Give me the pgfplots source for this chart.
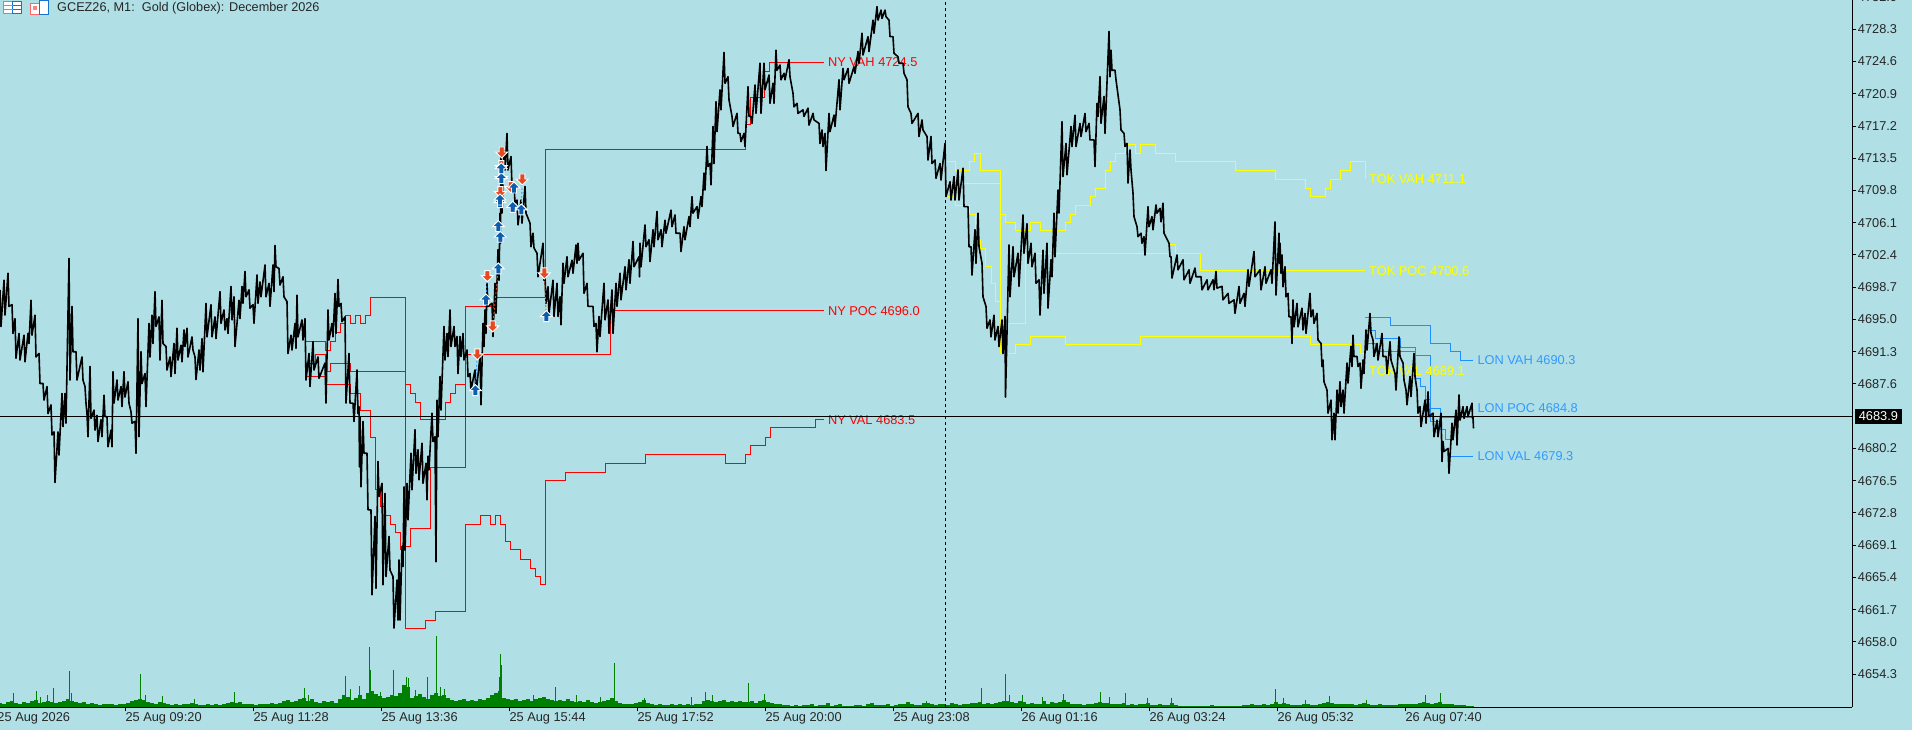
\documentclass[border=0pt]{standalone}
\usepackage{fontspec}
\setmainfont{Liberation Sans}
\usepackage{pgfplots}
\pgfplotsset{compat=1.18}
\definecolor{bg}{HTML}{B0E0E6}
\definecolor{vol}{HTML}{008000}
\definecolor{lon}{HTML}{1E90FF}
\definecolor{lontxt}{HTML}{3399FF}
\definecolor{tok}{HTML}{FFFF00}
\definecolor{ny}{HTML}{FF0000}
\definecolor{buy}{HTML}{0B5EAD}
\definecolor{sell}{HTML}{E84820}
\pgfdeclareplotmark{uparr}{%
 \pgfpathmoveto{\pgfqpoint{0pt}{6pt}}%
 \pgfpathlineto{\pgfqpoint{6pt}{0pt}}%
 \pgfpathlineto{\pgfqpoint{2.5pt}{0pt}}%
 \pgfpathlineto{\pgfqpoint{2.5pt}{-5pt}}%
 \pgfpathlineto{\pgfqpoint{-2.5pt}{-5pt}}%
 \pgfpathlineto{\pgfqpoint{-2.5pt}{0pt}}%
 \pgfpathlineto{\pgfqpoint{-6pt}{0pt}}%
 \pgfpathclose\pgfusepathqfillstroke}
\pgfdeclareplotmark{dnarr}{%
 \pgfpathmoveto{\pgfqpoint{0pt}{-6pt}}%
 \pgfpathlineto{\pgfqpoint{6pt}{0pt}}%
 \pgfpathlineto{\pgfqpoint{2.5pt}{0pt}}%
 \pgfpathlineto{\pgfqpoint{2.5pt}{5pt}}%
 \pgfpathlineto{\pgfqpoint{-2.5pt}{5pt}}%
 \pgfpathlineto{\pgfqpoint{-2.5pt}{0pt}}%
 \pgfpathlineto{\pgfqpoint{-6pt}{0pt}}%
 \pgfpathclose\pgfusepathqfillstroke}
\newcommand{\lbl}{\fontsize{12.8}{14}\selectfont}
\begin{document}
\begin{tikzpicture}[x=1pt,y=1pt]
\path[use as bounding box] (0,0) rectangle (1912,730);
\clip (0,0) rectangle (1912,730);
\fill[bg] (0,0) rectangle (1912,730);
% header icons
\draw[red!60,fill=white,line width=1pt] (3.5,716) rectangle (12.5,728);
\draw[lon!80!black,fill=white,line width=1pt] (12.5,716) rectangle (21.5,728);
\draw[red!60,line width=1pt] (3.5,724)--(12.5,724) (3.5,720)--(12.5,720);
\draw[lon!80!black,line width=1pt] (12.5,724)--(21.5,724) (12.5,720)--(21.5,720);
\draw[red!60,fill=white,line width=1pt] (30.5,715.5) rectangle (39,726);
\draw[lon!80!black,fill=white,line width=1pt] (39,715.5) rectangle (48.5,729);
\fill[red!50] (32.5,720) rectangle (37,724);
\node[anchor=west,inner sep=0pt,text=black!85] at (57,721.5) {\fontsize{12.7}{14}\selectfont GCEZ26, M1:\ \ Gold (Globex): December 2026};
% volume pane
\begin{axis}[at={(-3pt,22.7pt)},anchor=south west,scale only axis,width=1855.4pt,height=707.3pt,
 xmin=-3,xmax=1852.4,ymin=0,ymax=707.3,hide axis,clip=false]
\addplot[vol,ycomb,line width=4pt,line cap=butt] coordinates {(0,4)(4,3)(8,5)(12,6)(16,4)(20,3)(24,5)(28,4)(32,6)(36,7)(40,4)(44,5)(48,6)(52,5)(56,4)(60,5)(64,6)(68,8)(72,6)(76,5)(80,4)(84,5)(88,3)(92,4)(96,3)(100,2)(104,3)(108,3)(112,3)(116,2)(120,3)(124,3)(128,4)(132,6)(136,7)(140,8)(144,7)(148,5)(152,4)(156,3)(160,5)(164,4)(168,3)(172,2)(176,3)(180,2)(184,3)(188,3)(192,4)(196,3)(200,2)(204,2)(208,3)(212,2)(216,3)(220,2)(224,3)(228,4)(232,5)(236,4)(240,5)(244,3)(248,3)(252,3)(256,2)(260,3)(264,3)(268,3)(272,4)(276,3)(280,4)(284,6)(288,7)(292,5)(296,6)(300,8)(304,9)(308,6)(312,8)(316,5)(320,4)(324,6)(328,5)(332,6)(336,4)(340,8)(344,12)(348,10)(352,7)(356,9)(360,12)(364,8)(368,14)(372,16)(376,13)(380,11)(384,9)(388,10)(392,12)(396,11)(400,14)(404,22)(408,20)(412,9)(416,11)(420,13)(424,10)(428,8)(432,12)(436,14)(440,11)(444,12)(448,9)(452,7)(456,6)(460,7)(464,8)(468,6)(472,7)(476,6)(480,8)(484,7)(488,9)(492,12)(496,14)(500,16)(504,9)(508,8)(512,7)(516,8)(520,6)(524,7)(528,8)(532,6)(536,8)(540,9)(544,10)(548,8)(552,7)(556,6)(560,7)(564,6)(568,8)(572,6)(576,5)(580,6)(584,5)(588,7)(592,5)(596,4)(600,5)(604,6)(608,7)(612,9)(616,6)(620,4)(624,3)(628,3)(632,3)(636,4)(640,5)(644,7)(648,4)(652,3)(656,2)(660,3)(664,2)(668,2)(672,3)(676,2)(680,3)(684,2)(688,3)(692,2)(696,3)(700,3)(704,6)(708,7)(712,6)(716,5)(720,6)(724,7)(728,5)(732,6)(736,5)(740,6)(744,5)(748,5)(752,6)(756,4)(760,6)(764,7)(768,5)(772,4)(776,3)(780,3)(784,2)(788,2)(792,1)(796,2)(800,1)(804,2)(808,2)(812,3)(816,1)(820,2)(824,2)(828,4)(832,1)(836,2)(840,3)(844,1)(848,1)(852,1)(856,2)(860,2)(864,1)(868,3)(872,4)(876,2)(880,2)(884,2)(888,3)(892,1)(896,2)(900,3)(904,3)(908,5)(912,3)(916,2)(920,2)(924,4)(928,4)(932,3)(936,2)(940,3)(944,3)(948,2)(952,4)(956,3)(960,2)(964,3)(968,3)(972,4)(976,4)(980,5)(984,3)(988,4)(992,3)(996,4)(1000,5)(1004,6)(1008,6)(1012,5)(1016,4)(1020,6)(1024,5)(1028,3)(1032,4)(1036,3)(1040,3)(1044,6)(1048,3)(1052,5)(1056,4)(1060,5)(1064,7)(1068,5)(1072,3)(1076,3)(1080,3)(1084,2)(1088,3)(1092,3)(1096,4)(1100,5)(1104,4)(1108,4)(1112,3)(1116,3)(1120,3)(1124,4)(1128,2)(1132,3)(1136,2)(1140,3)(1144,3)(1148,4)(1152,2)(1156,2)(1160,3)(1164,2)(1168,2)(1172,4)(1176,2)(1180,1)(1184,1)(1188,1)(1192,1)(1196,1)(1200,1)(1204,1)(1208,1)(1212,2)(1216,1)(1220,1)(1224,1)(1228,1)(1232,1)(1236,1)(1240,1)(1244,2)(1248,2)(1252,3)(1256,2)(1260,2)(1264,3)(1268,2)(1272,3)(1276,5)(1280,3)(1284,4)(1288,3)(1292,2)(1296,2)(1300,2)(1304,3)(1308,3)(1312,2)(1316,2)(1320,3)(1324,4)(1328,5)(1332,4)(1336,3)(1340,3)(1344,3)(1348,3)(1352,3)(1356,2)(1360,3)(1364,4)(1368,3)(1372,2)(1376,2)(1380,3)(1384,2)(1388,2)(1392,2)(1396,2)(1400,3)(1404,3)(1408,3)(1412,3)(1416,3)(1420,4)(1424,5)(1428,4)(1432,3)(1436,4)(1440,5)(1444,3)(1448,3)(1452,3)(1456,2)(1460,2)(1464,2)(1468,1)(1472,1)};
\addplot[vol,ycomb,line width=1pt,line cap=butt] coordinates {(14,14)(36,16)(40,10)(47,12)(53,19)(69,36)(71,14)(140,33)(145,12)(162,11)(194,8)(234,15)(304,19)(308,12)(345,31)(350,18)(359,21)(369,60)(370,37)(380,15)(393,37)(406,30)(408,29)(415,17)(427,30)(436,71)(440,20)(444,18)(499,30)(500,53)(501,42)(533,12)(555,20)(576,12)(600,10)(614,44)(644,9)(691,10)(705,15)(712,12)(748,24)(764,13)(926,6)(981,19)(1005,33)(1009,12)(1022,12)(1042,10)(1063,13)(1100,15)(1109,10)(1125,14)(1147,9)(1171,9)(1275,18)(1283,9)(1305,7)(1329,11)(1366,7)(1425,12)(1440,14)};
\end{axis}
% price pane
\begin{axis}[at={(-3pt,22.7pt)},anchor=south west,scale only axis,width=1855.4pt,height=707.3pt,
 xmin=-3,xmax=1852.4,ymin=4650.5,ymax=4731.66,clip=false,
 axis x line*=bottom,axis y line*=right,
 axis line style={black,line width=1pt,-},
 tick style={black,line width=1pt},major tick length=4pt,tick align=outside,
 xtick={-2.7,125.3,253.3,381.3,509.3,637.3,765.3,893.3,1021.3,1149.3,1277.3,1405.3},
 xticklabels={25 Aug 2026,25 Aug 09:20,25 Aug 11:28,25 Aug 13:36,25 Aug 15:44,25 Aug 17:52,25 Aug 20:00,25 Aug 23:08,26 Aug 01:16,26 Aug 03:24,26 Aug 05:32,26 Aug 07:40},
 xticklabel style={anchor=north west,font=\lbl,text=black!85,inner sep=0pt,xshift=0pt,yshift=-1.5pt},
 ytick={4728.3,4724.6,4720.9,4717.2,4713.5,4709.8,4706.1,4702.4,4698.7,4695.0,4691.3,4687.6,4680.2,4676.5,4672.8,4669.1,4665.4,4661.7,4658.0,4654.3},
 yticklabels={4728.3,4724.6,4720.9,4717.2,4713.5,4709.8,4706.1,4702.4,4698.7,4695.0,4691.3,4687.6,4680.2,4676.5,4672.8,4669.1,4665.4,4661.7,4658.0,4654.3},
 yticklabel style={anchor=west,font=\lbl,text=black!85,inner sep=0pt,xshift=1.3pt},
]
% NY profile
\addplot[ny,line width=1pt] coordinates {(305,4692.5)(325.7,4692.5)(325.7,4691.47)(330.7,4691.47)(330.7,4692.5)(335.7,4692.5)(335.7,4693.55)(340.7,4693.55)(340.7,4694.55)(345.7,4694.55)(345.7,4695.5)(350.7,4695.5)(350.7,4694.55)(355.7,4694.55)(355.7,4695.5)(360.7,4695.5)(360.7,4694.55)(365.7,4694.55)(365.7,4695.5)(370.3,4695.5)(370.3,4697.55)(405.3,4697.55)(405.3,4687.57)(410.3,4687.57)(410.3,4686.5)(415.3,4686.5)(415.3,4685.5)(420.3,4685.5)(420.3,4683.55)(445.3,4683.55)(445.3,4685.5)(450.3,4685.5)(450.3,4686.5)(455.3,4686.5)(455.3,4687.57)(465.3,4687.57)(465.3,4696.5)(494.3,4696.5)(494.3,4697.55)(545.3,4697.55)(545.3,4714.53)(745.3,4714.53)(745.3,4717.43)(750.2,4717.43)(750.2,4720.5)(764.9,4720.5)(764.9,4723.44)(769.8,4723.44)(769.8,4724.5)(823.7,4724.5)};
\addplot[ny,line width=1pt] coordinates {(305,4690)(315,4690)(315,4691)(325.7,4691)(325.7,4689)(330.7,4689)(330.7,4690)(350.7,4690)(350.7,4689)(405.3,4689)(405.3,4669)(410.3,4669)(410.3,4671.05)(430.3,4671.05)(430.3,4678.05)(465.3,4678.05)(465.3,4691)(610,4691)(610,4696)(823.7,4696)};
\addplot[ny,line width=1pt] coordinates {(305,4688.5)(325.7,4688.5)(325.7,4687.57)(350.7,4687.57)(350.7,4686.5)(360,4686.5)(360,4684.5)(370.3,4684.5)(370.3,4681.5)(375.3,4681.5)(375.3,4675.5)(380.3,4675.5)(380.3,4673.5)(385.3,4673.5)(385.3,4672.5)(390.3,4672.5)(390.3,4671.5)(395.3,4671.5)(395.3,4670.5)(400.3,4670.5)(400.3,4668.55)(405.3,4668.55)(405.3,4659.5)(425.3,4659.5)(425.3,4660.5)(435.3,4660.5)(435.3,4661.5)(465.3,4661.5)(465.3,4671.5)(480.3,4671.5)(480.3,4672.55)(490.3,4672.55)(490.3,4671.5)(495.3,4671.5)(495.3,4672.55)(500.3,4672.55)(500.3,4671.5)(505.3,4671.5)(505.3,4669.55)(510.3,4669.55)(510.3,4668.55)(520.3,4668.55)(520.3,4667.5)(530.3,4667.5)(530.3,4666.45)(535.3,4666.45)(535.3,4665.5)(540.3,4665.5)(540.3,4664.55)(545.3,4664.55)(545.3,4676.55)(565.3,4676.55)(565.3,4677.47)(605.3,4677.47)(605.3,4678.5)(645.3,4678.5)(645.3,4679.5)(725.3,4679.5)(725.3,4678.5)(745.3,4678.5)(745.3,4679.5)(750.3,4679.5)(750.3,4680.5)(765.3,4680.5)(765.3,4681.5)(770.3,4681.5)(770.3,4682.55)(815.3,4682.55)(815.3,4683.5)(823.7,4683.5)};
% TOK profile
\addplot[tok,line width=1pt] coordinates {(945.3,4713.15)(955.1,4713.15)(955.1,4712.12)(969.8,4712.12)(969.8,4713.15)(974.7,4713.15)(974.7,4714.07)(980,4714.07)(980,4712.12)(1000,4712.12)(1000,4707.07)(1005.3,4707.07)(1005.3,4706.15)(1015.5,4706.15)(1015.5,4705.16)(1030.6,4705.16)(1030.6,4706.15)(1040,4706.15)(1040,4705.16)(1065.3,4705.16)(1065.3,4706.15)(1070.6,4706.15)(1070.6,4707.07)(1075.5,4707.07)(1075.5,4708.1)(1090.6,4708.1)(1090.6,4709.1)(1095.5,4709.1)(1095.5,4710.05)(1105.7,4710.05)(1105.7,4712.12)(1110.6,4712.12)(1110.6,4713.15)(1115.5,4713.15)(1115.5,4714.07)(1125.7,4714.07)(1125.7,4715.1)(1135.5,4715.1)(1135.5,4714.07)(1140.4,4714.07)(1140.4,4715.1)(1155.5,4715.1)(1155.5,4714.07)(1175.5,4714.07)(1175.5,4713.15)(1235.5,4713.15)(1235.5,4712.12)(1275.3,4712.12)(1275.3,4711.1)(1305.5,4711.1)(1305.5,4710.05)(1310.8,4710.05)(1310.8,4709.1)(1325,4709.1)(1325,4710.05)(1330.4,4710.05)(1330.4,4711.1)(1340.6,4711.1)(1340.6,4712.12)(1350.4,4712.12)(1350.4,4713.15)(1365.5,4713.15)(1365.5,4711.1)};
\addplot[tok,line width=1pt] coordinates {(945.3,4710.63)(1000,4710.63)(1000,4694.57)(1025.7,4694.57)(1025.7,4702.6)(1169.4,4702.6)(1169.4,4703.6)(1175.5,4703.6)(1175.5,4702.6)(1200.4,4702.6)(1200.4,4700.65)(1365,4700.65)};
\addplot[tok,line width=1pt] coordinates {(945.3,4709.1)(955,4709.1)(955,4708.1)(969.8,4708.1)(969.8,4707.07)(975,4707.07)(975,4704.13)(980.8,4704.13)(980.8,4703.1)(985.7,4703.1)(985.7,4701.1)(991,4701.1)(991,4699.16)(995,4699.16)(995,4697.1)(1000,4697.1)(1000,4691.12)(1015.5,4691.12)(1015.5,4692.16)(1030.6,4692.16)(1030.6,4693.07)(1065.3,4693.07)(1065.3,4692.16)(1140,4692.16)(1140,4693.07)(1310,4693.07)(1310,4692.15)(1360.7,4692.15)(1360.7,4691.1)(1365,4691.1)(1365,4689.1)};
% LON profile
\addplot[lon,line width=1pt] coordinates {(1365.3,4695.25)(1390.3,4695.25)(1390.3,4694.33)(1430.7,4694.33)(1430.7,4692.27)(1450.7,4692.27)(1450.7,4691.3)(1460.7,4691.3)(1460.7,4690.3)(1472.7,4690.3)};
\addplot[lon,line width=1pt] coordinates {(1365.3,4693.76)(1375.3,4693.76)(1375.3,4692.84)(1400.3,4692.84)(1400.3,4691.8)(1415.3,4691.8)(1415.3,4690.81)(1430.7,4690.81)(1430.7,4684.81)(1440.7,4684.81)(1440.7,4683.78)(1472.7,4683.78)(1472.7,4684.8)};
\addplot[lon,line width=1pt] coordinates {(1365.3,4692.27)(1375.3,4692.27)(1375.3,4691.3)(1415.3,4691.3)(1415.3,4688.25)(1420.3,4688.25)(1420.3,4687.3)(1425.3,4687.3)(1425.3,4685.77)(1430.7,4685.77)(1430.7,4683.28)(1440.7,4683.28)(1440.7,4682.32)(1445.7,4682.32)(1445.7,4681.25)(1450.7,4681.25)(1450.7,4679.3)(1472.7,4679.3)};
% labels
\node[anchor=west,inner sep=0pt,text=ny] at (axis cs:827.8,4724.5) {\lbl NY VAH 4724.5};
\node[anchor=west,inner sep=0pt,text=ny] at (axis cs:827.8,4696.0) {\lbl NY POC 4696.0};
\node[anchor=west,inner sep=0pt,text=ny] at (axis cs:827.8,4683.5) {\lbl NY VAL 4683.5};
\node[anchor=west,inner sep=0pt,text=tok] at (axis cs:1369,4711.1) {\lbl TOK VAH 4711.1};
\node[anchor=west,inner sep=0pt,text=tok] at (axis cs:1369,4700.6) {\lbl TOK POC 4700.6};
\node[anchor=west,inner sep=0pt,text=tok] at (axis cs:1369,4689.1) {\lbl TOK VAL 4689.1};
\node[anchor=west,inner sep=0pt,text=lontxt] at (axis cs:1477.3,4690.3) {\lbl LON VAH 4690.3};
\node[anchor=west,inner sep=0pt,text=lontxt] at (axis cs:1477.3,4684.8) {\lbl LON POC 4684.8};
\node[anchor=west,inner sep=0pt,text=lontxt] at (axis cs:1477.3,4679.3) {\lbl LON VAL 4679.3};
% price
\addplot[black,line width=1.6pt,line join=round] coordinates {
(0,4698.4)(1,4694.2)(4,4699.5)(5,4695.5)(8,4700.3)(9,4696.5)(12,4696.7)(13,4693.4)(15,4695.1)(16,4690.55)(19,4693.4)(20,4690.35)(24,4693.2)(25,4690.15)(28,4693.4)(29,4692.25)(31,4697.2)(32,4693.2)(35,4695.5)(36,4690.7)(39,4691.1)(40,4687.65)(43,4687.65)(44,4685.75)(47,4687.3)(48,4684.2)(51,4685.2)(52,4681.75)(54,4682.1)(55,4676.3)(58,4682.1)(59,4679.45)(62,4686.5)(63,4682.7)(65,4686.5)(66,4683.1)
(69,4702.0)(70,4688.05)(72,4696.5)(73,4691.3)(76,4691.3)(77,4688.05)(82,4690.7)(83,4688.05)(85,4687.3)(86,4685.4)(87,4684.2)(88,4681.55)(90,4689.6)(91,4683.65)(94,4684.6)(95,4682.3)(97,4684)(98,4681)(101,4683.5)(102,4681.55)(104,4686.3)(105,4683.85)(107,4683.85)(108,4680.4)(111,4682.3)(112,4680.4)(113,4689)(114,4685.4)(117,4688.05)(118,4685.75)(121,4687.3)(122,4685)(124,4689)(125,4686.1)(128,4687.85)(129,4685.4)(131,4684.4)(132,4683.1)(135,4683.3)(136,4679.65)
(138,4695.1)(139,4681.55)(141,4691.3)(142,4687.65)(145,4688.8)(146,4685)(149,4694.55)(150,4690.7)(152,4695.5)(153,4692.25)(155,4698.2)(156,4694.2)(159,4695.3)(160,4690.35)(162,4697.2)(163,4692.25)(166,4691.9)(167,4689.2)(170,4690.7)(171,4688.45)(174,4692.25)(175,4688.8)(177,4694)(178,4690.35)(181,4692.05)(182,4690.15)(184,4693.8)(185,4691.9)(187,4694)(188,4690.7)(192,4693)(193,4691.5)(195,4690.7)(196,4688.1)(199,4691.5)(200,4689.2)(202,4692.8)(203,4689)(206,4696.85)(207,4693)(211,4696.7)(212,4693)(215,4695.3)(216,4692.8)(220,4698.2)(221,4694.55)(224,4696.1)(225,4693.8)(227,4695.1)(228,4693.4)(231,4698.8)(232,4694.95)(234,4697.6)(235,4691.9)(239,4697.2)(240,4695.1)
(242,4698.8)(243,4696.85)(245,4700.5)(246,4697.6)(249,4698.4)(250,4696.3)(253,4696.7)(254,4694.55)(257,4700.1)(258,4696.85)(260,4699.3)(261,4697.6)(265,4701.25)(266,4697.6)(269,4699.15)(270,4696.5)(273,4701.25)(274,4698.2)(275,4703.5)(276,4701.05)(279,4700.85)(280,4698.95)(283,4699.9)(284,4697.6)(287,4697.05)(288,4691.1)(291,4693.2)(292,4691.5)(295,4694.55)(296,4691.7)(297,4697.8)(298,4693)(302,4694.95)(303,4692.65)(305,4695.1)(306,4688.05)(309,4691.1)(310,4687.3)(313,4692.45)(314,4689.2)(318,4690.7)(319,4688.25)(325,4690)(326,4685.4)(328,4696.1)(329,4692.65)(332,4694.55)(333,4693)(335,4698)(336,4693.4)(338,4699.6)(339,4696.5)(341,4696.85)(342,4694.75)(345,4695.3)(346,4685.4)(349,4691.1)(350,4685.4)(353,4685.4)(354,4683.3)(357,4689.2)(358,4684.2)(359,4685)(359.5,4678.1)
(360,4683.85)(361,4675.8)(363,4683.3)(364,4679.65)(367,4679.65)(368,4673.15)(371,4673.15)(372,4663.4)(375,4672.4)(376,4664.15)(378,4678.7)(379,4674.7)(382,4676.2)(383,4664.55)(385,4675.05)(386,4665.5)(389,4670.1)(390,4666.25)(393,4665.5)(394,4659.6)(397,4665.1)(398,4660.5)(399,4667.4)(400,4660.5)(402,4668.95)(403,4666.65)(404,4675.8)(405,4668.55)(407,4676.2)(408,4672)(411,4679.65)(412,4675.45)(415,4682.35)(416,4677.35)(418,4680.05)(419,4676.6)(422,4680.8)(423,4676.2)(426,4678.5)(427,4674.3)(428,4679.3)(429,4677.75)(432,4684.25)(433,4681)(435,4681.55)(436,4667.2)(437,4685.75)(438,4681.55)(440,4688.45)(441,4684.6)(444,4694.2)(445,4690.35)(447,4693.4)(448,4690.75)(450,4696.1)(451,4691.9)(454,4694.2)(455,4691.9)(457,4693.05)(458,4688.8)(460,4693.05)(461,4690.75)(463,4693.4)(464,4690.35)(467,4691.5)(468,4688.45)(470,4688.8)(471,4686.9)(475,4689.2)(476,4686.5)(480,4690.75)(481,4685.2)(483,4694.55)(484,4691.9)(485,4696.1)(486,4693.4)(487,4699.15)(488,4696.5)(492,4696.85)(493,4693.05)(495,4699.15)(496,4695.7)(498,4703)(499,4699.5)(500,4707.2)(500.5,4703.75)(501,4714.1)(502,4707.2)(504,4714.45)(505,4712.15)(507,4716.35)(508,4712.15)(511,4713.7)(512,4710.25)(514,4710.6)(515,4708.35)(517,4708.7)(518,4705.85)(521,4708.7)(522,4706.05)(525,4710.25)(526,4707.2)(530,4706.05)(531,4703.35)(533,4704.9)(534,4703.2)(537,4702.6)(538,4699.9)(543,4703.75)(544,4699.5)(545,4699.9)(546,4696.85)(548,4698.75)(549,4695.7)(553,4699.5)(554,4695.35)(557,4699.15)(558,4695.35)(560,4697.6)(561,4694.4)(563,4701.45)(564,4699.15)(567,4702.2)(568,4699.9)(572,4701.8)(573,4700.3)(576,4703.55)(577,4701.45)(578,4703.75)(579,4701.8)(583,4702.6)(584,4698)(587,4699.15)(588,4696.5)(593,4696.5)(594,4694.2)(596,4694.55)(597,4691.3)(599,4695.35)(600,4693.05)
(604,4699.15)(605,4694.95)(608,4697.25)(609,4693.4)(612,4698.4)(613,4693.4)(616,4699.15)(617,4696.5)(620,4700.3)(621,4697.25)(625,4701.05)(626,4698.4)(629,4701.85)(630,4699.15)(633,4703.95)(634,4701.05)(639,4702.2)(639.5,4699.9)
(640,4703.75)(641,4701.05)(645,4705.85)(646,4703.35)(649,4704.15)(650,4701.65)(653,4705.3)(654,4703.35)(657,4707.4)(658,4704.15)(661,4705.3)(662,4703.35)(665,4706.4)(666,4704.9)(671,4707.55)(672,4705.65)(675,4707)(676,4704.9)(680,4704.9)(681,4702.8)(684,4705.65)(685,4704.15)(689,4706.8)(690,4705.65)(692,4709.1)(693,4707.2)(697,4707.95)(698,4706.6)(701,4709.1)(702,4707.95)(704,4711.8)(705,4709.85)(707,4714.85)(708,4712.55)(710,4712.9)(711,4710.45)(713,4717.15)(714,4712.9)(716,4720)(717,4716.55)(720,4721.35)(721,4719.05)(724,4725.65)(725,4722.1)(728,4722.85)(729,4720.2)(732,4718.3)(733,4717.15)(737,4718.65)(738,4716.35)(740,4716.35)(741,4715.4)(744,4716.35)(745,4714.85)(748,4721.7)(749,4718.3)(751,4718.3)(752,4717.5)(755,4721.9)(756,4718.65)(760,4724.4)(761,4718.65)(764,4724.4)(765,4721.35)(769,4723.05)(770,4719.8)(773,4722.1)(774,4719.8)(776,4725.9)(777,4723.6)(780,4724.2)(781,4722.5)(784,4723.25)(785,4722.5)(789,4724.8)(790,4722.85)(793,4720.95)(794,4719.4)(797,4719.8)(798,4718.65)(803,4719.05)(804,4718.3)(808,4719.25)(809,4717.3)(813,4718.65)(814,4717.9)(819,4717.5)(820,4715.2)(822,4716.75)(823,4714.85)(825,4716.35)(826,4712.1)(829,4718.65)(830,4716.55)(834,4718.45)(835,4717.15)(839,4722.5)(840,4719.05)(843,4723.8)(844,4722.5)(848,4723.8)(849,4722.1)(854,4724)(855,4723.25)(858,4725.75)(859,4724.4)(862,4727.85)(863,4725.35)(868,4727.45)(869,4725.75)(873,4729.35)(874,4727.85)(877,4730.9)(878,4729.35)(881,4730.5)(882,4729.55)(885,4730.5)(886,4729.75)(889,4729.35)(890,4727.45)(893,4727.45)(894,4725.55)(898,4725.15)(899,4724.4)(903,4724.4)(904,4723.25)(907,4722.5)(908,4719.4)(911,4718.65)(912,4717.5)(918,4718.65)(919,4716)(922,4717.9)(923,4716.75)(927,4716)(928,4713.3)(931,4716)(932,4712.9)(935,4713.3)(936,4711.2)(940,4712.9)(941,4711)(945,4715.2)(946,4709.1)(950,4710.8)(951,4708.7)(954,4711.4)(955,4708.7)(958,4712.15)(959,4708.7)(963,4712.35)(964,4707.95)(968,4707.95)(969,4703.35)(971,4703.35)(972,4700.1)(975,4705.3)(976,4701.45)(978,4707.2)(979,4703.35)(982,4701.45)(983,4697.6)(986,4696.5)(987,4694)(990,4694.95)(991,4693)(994,4695.5)(995,4692.65)(998,4694.2)(999,4691.9)(1002,4694.95)(1003,4691.1)(1005,4695.35)(1005.5,4686.1)(1009,4703.55)(1010,4697.6)(1013,4703.35)(1014,4699.9)(1018,4702.6)(1019,4698.8)(1023,4707)(1024,4702.6)(1027,4706)(1028,4701.45)(1031,4703.75)(1032,4701.05)(1035,4702.6)(1036,4699.15)(1039,4699.55)(1040,4695.5)(1043,4702.95)(1044,4698)(1047,4703.75)(1048,4696.3)(1051,4701.85)(1052,4699.9)(1054,4707.2)(1055,4702.2)(1058,4709.85)(1059,4707.2)(1062,4717.7)(1063,4711.4)(1066,4715.2)(1067,4711.6)(1071,4717.15)(1072,4714.85)(1075,4718.45)(1076,4714.85)(1080,4717.5)(1081,4716)(1085,4718.65)(1086,4716.55)(1089,4717.5)(1090,4715.6)(1094,4715.6)(1095,4712.55)(1097,4719.8)(1098,4718.3)(1100,4722.85)(1101,4717.5)(1104,4720.6)(1105,4716.35)(1109,4728.05)(1110,4722.85)(1111,4725.9)(1112,4723.6)(1115,4723.6)(1116,4722.5)(1120,4719.05)(1121,4716.75)(1124,4716.35)(1125,4714.85)(1127,4715.2)(1128,4710.65)(1130,4714.45)(1131,4712.15)(1133,4709.5)(1134,4706.8)(1137,4705.65)(1138,4704.5)(1141,4704.9)(1142,4703.75)(1144,4704.5)(1145,4702.4)(1148,4707.95)(1149,4705.65)(1152,4706.8)(1153,4705.3)(1156,4708.15)(1157,4707.2)(1160,4707.75)(1161,4706.2)(1163,4708.35)(1164,4704.9)(1169,4703.75)(1170,4702.2)(1171,4702.2)(1172,4699.75)(1177,4702.4)(1178,4700.7)(1183,4701.85)(1184,4699.55)(1189,4700.7)(1190,4699.15)(1195,4700.9)(1196,4699.9)(1201,4699.9)(1202,4698.4)(1207,4699.55)(1208,4698.4)(1213,4699.55)(1214,4698.4)(1216,4700.5)(1217,4698.6)(1222,4698.8)(1223,4697.25)(1228,4698)(1229,4696.85)(1234,4697.25)(1235,4695.7)(1239,4698.8)(1240,4696.85)(1244,4698)(1245,4696.5)(1248,4700.7)(1249,4698.8)(1254,4702.8)(1255,4699.9)(1260,4700.7)(1261,4698.4)(1265,4701.05)(1266,4699.15)(1271,4700.7)(1272,4699.15)(1275,4706.2)(1276,4697.8)
(1279,4704.9)(1279.5,4701.45)(1280,4703.75)(1281,4700.3)(1282,4702.4)(1283,4698.75)(1285,4701.05)(1286,4697.6)(1288,4698)(1289,4695.3)(1291,4695.3)(1292,4692.25)(1293,4697.25)(1294,4694.15)(1297,4696.85)(1298,4694.15)(1302,4696.3)(1303,4693.8)(1305,4695.7)(1306,4693.4)(1310,4698)(1311,4695.3)(1313,4696.1)(1314,4694.55)(1317,4695.7)(1318,4692.65)(1321,4692.25)(1322,4689.6)(1323,4690.35)(1324,4687.85)(1327,4686.9)(1328,4684.25)(1331,4685.75)(1332,4681.2)(1334,4684.25)(1335,4681.2)(1337,4686.9)(1338,4684.25)(1340,4687.85)(1341,4685)(1343,4686.9)(1344,4684.25)(1347,4690)(1348,4687.7)(1351,4691.9)(1352,4689.6)(1353,4693.2)(1354,4690.75)(1357,4690.75)(1358,4689.6)(1360,4690)(1361,4687.1)(1363,4690.35)(1364,4688.8)(1366,4693.8)(1367,4691.5)(1370,4695.7)(1371,4693.4)(1373,4692.65)(1374,4690.75)(1377,4692.25)(1378,4690.35)(1382,4693.4)(1383,4690.75)(1386,4690.75)(1387,4688.8)(1390,4692.45)(1391,4690.35)(1395,4688.8)(1396,4686.9)(1399,4693)(1400,4690.75)(1403,4690)(1404,4688.05)(1406,4686.9)(1407,4685.2)(1410,4688.45)(1411,4686.15)(1414,4691.1)(1415,4688.45)(1417,4686.9)(1418,4684.25)(1420,4685)(1421,4682.7)(1425,4685.75)(1426,4683.1)(1428,4686.7)(1429,4683.85)(1433,4684.25)(1434,4681.55)(1437,4683.45)(1438,4681.55)(1441,4684.25)(1442,4678.7)(1443,4681)(1444,4679.85)(1448,4680.2)(1449,4677.35)(1452,4683.1)(1453,4681.2)(1456,4684.6)(1457,4680.6)(1459,4686.35)(1460,4683.45)(1463,4685)(1464,4683.65)(1467,4685)(1468,4683.85)(1472,4685.4)(1472.5,4683.65)(1473,4683.85)(1473.5,4682.5)};
% order links
\addplot[sell,line width=0.8pt,dash pattern=on 2pt off 2pt] coordinates {(492.7,4694.26)(498.3,4700.8)};
\addplot[sell,line width=0.8pt,dash pattern=on 2pt off 2pt] coordinates {(544.3,4700.34)(546.3,4695.33)};
\addplot[lon,line width=0.8pt,dash pattern=on 2pt off 2pt] coordinates {(475.3,4686.84)(477.3,4691.05)};
\addplot[lon,line width=0.8pt,dash pattern=on 2pt off 2pt] coordinates {(486,4697.24)(487.3,4700.03)};
\addplot[lon,line width=0.8pt,dash pattern=on 2pt off 2pt] coordinates {(521.3,4707.57)(522.3,4711.12)};
% orders
\addplot[only marks,mark=dnarr,mark options={fill=sell,draw=white,line width=0.9pt}] coordinates {(477.3,4691.05)(487.3,4700.03)(492.7,4694.26)(501.7,4714.22)(501.3,4712.65)(501.3,4711.39)(500.3,4709.67)(522.3,4711.12)(510.7,4710.24)(544.3,4700.34)};
\addplot[only marks,mark=uparr,mark options={fill=buy,draw=white,line width=0.9pt}] coordinates {(475.3,4686.84)(486,4697.24)(498.3,4700.8)(500.3,4704.43)(498.3,4705.65)(500,4708.4)(500,4708.71)(501.3,4711.16)(501.3,4712.3)(514,4710.09)(512.7,4707.87)(521.3,4707.57)(546.3,4695.33)};
% current price and vertical marker
\addplot[black,line width=1pt] coordinates {(-3,4683.9)(1852.4,4683.9)};
\addplot[black,line width=1pt,dash pattern=on 3pt off 3pt] coordinates {(945.3,4650.5)(945.3,4731.66)};
\node[anchor=west,fill=black,text=white,inner xsep=4pt,inner ysep=2pt,minimum height=15pt] at (axis cs:1854.6,4683.9) {\lbl 4683.9};
\node[anchor=west,inner sep=0pt,text=black!85] at (axis cs:1857.7,4732.0) {\lbl 4732.0};
\end{axis}
\end{tikzpicture}
\end{document}
